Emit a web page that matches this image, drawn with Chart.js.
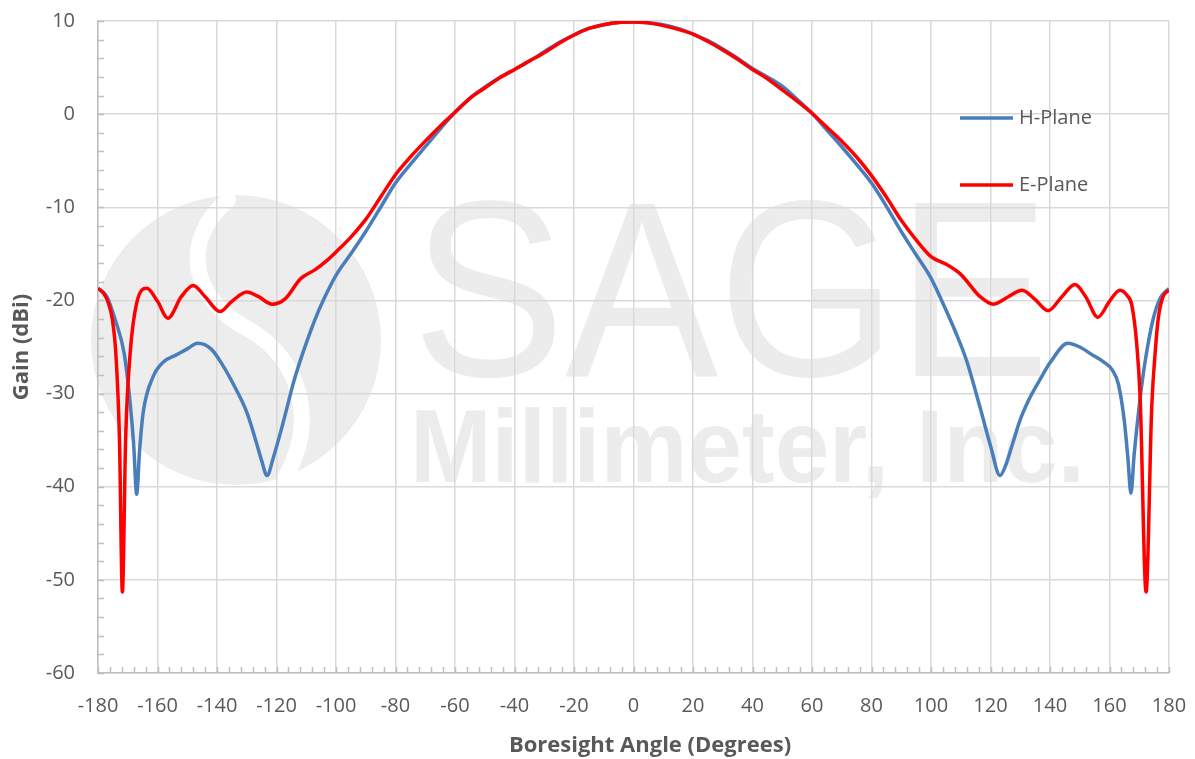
<!DOCTYPE html>
<html>
<head>
<meta charset="utf-8">
<script src="https://cdn.jsdelivr.net/npm/chart.js@4/dist/chart.umd.min.js"></script>
<style>
    html, body { margin: 0; padding: 0; background: #fff; }
    #wrap { width: 1195px; height: 759px; position: relative; }
</style>
</head>
<body>
<div id="wrap"><canvas id="patternChart"></canvas></div>
<script>
// H-Plane 方向图 (角度, 增益)
const hAngles = [-180, -177, -174, -171.2, -169.2, -168, -167, -166, -164.8, -161.5, -158, -154, -150, -146.5, -142, -138, -134, -130, -127, -125, -123.2, -121, -118, -114, -111, -107, -104, -100, -95, -90, -85, -80, -75, -70, -65, -60, -55, -50, -45, -40, -35, -30, -25, -20, -15, -10, -5, 0, 5, 10, 15, 20, 25, 30, 35, 40, 45, 50, 55, 60, 65, 70, 75, 80, 85, 90, 95, 100, 104, 108, 112, 116.5, 120, 123.2, 125, 127.5, 130, 133.3, 137, 140, 146, 150, 154, 158, 161, 163, 165, 166.2, 167.2, 168.3, 170.3, 172, 174.6, 177, 180];
const hGain = [-18.7, -19.6, -22.3, -25.7, -31, -35.5, -40.8, -36, -32, -28.2, -26.6, -25.9, -25.2, -24.6, -25.2, -27, -29.3, -32, -35, -37.2, -38.8, -36.8, -33.4, -28.5, -25.5, -22, -19.8, -17.3, -15, -12.6, -10, -7.4, -5.4, -3.5, -1.6, 0.2, 1.7, 2.9, 3.9, 4.8, 5.7, 6.7, 7.7, 8.5, 9.2, 9.6, 9.85, 9.9, 9.8, 9.6, 9.2, 8.6, 7.9, 7.0, 6.0, 4.9, 4.0, 3.0, 1.6, 0.1, -1.7, -3.5, -5.4, -7.4, -9.9, -12.6, -15.1, -17.6, -20.3, -23.2, -26.5, -31.5, -35.6, -38.8, -37.8, -35.3, -32.8, -30.4, -28.3, -26.7, -24.6, -25, -25.8, -26.6, -27.5, -29, -33, -37, -40.7, -36.5, -30.5, -26.5, -22.1, -19.8, -18.7];

// E-Plane 方向图 (角度, 增益)
const eAngles = [-180, -178, -176.5, -175.2, -174, -172.8, -171.8, -170.7, -169.2, -167, -163.6, -160, -156.5, -152, -148, -144, -139, -135, -130, -126, -121.5, -117, -112, -107, -103, -100, -95, -90, -85, -80, -75, -70, -65, -60, -55, -50, -45, -40, -35, -30, -25, -20, -15, -10, -5, 0, 5, 10, 15, 20, 25, 30, 35, 40, 45, 50, 55, 60, 65, 70, 75, 80, 85, 90, 95, 100, 105, 110, 116.5, 121, 126, 130.6, 135, 139.4, 144, 148.4, 152, 156.1, 160, 163.5, 166, 167.5, 169.1, 170.3, 172.3, 174.2, 175.5, 176.4, 178, 180];
const eGain = [-18.7, -19.3, -20.3, -22, -25.7, -34.7, -51.3, -34.7, -25.7, -20.3, -18.7, -20.1, -21.9, -19.6, -18.4, -19.6, -21.2, -20.1, -19.1, -19.6, -20.4, -19.8, -17.7, -16.7, -15.7, -14.8, -13.2, -11.3, -8.9, -6.5, -4.6, -2.9, -1.3, 0.2, 1.7, 2.8, 3.9, 4.8, 5.7, 6.6, 7.6, 8.5, 9.2, 9.6, 9.85, 9.9, 9.8, 9.5, 9.1, 8.6, 7.8, 6.9, 5.9, 4.8, 3.8, 2.6, 1.4, 0.1, -1.4, -2.9, -4.6, -6.6, -8.9, -11.4, -13.5, -15.3, -16.1, -17.2, -19.6, -20.4, -19.6, -18.9, -19.9, -21.1, -19.6, -18.3, -19.6, -21.8, -20.1, -18.9, -19.5, -20.5, -24.5, -30.4, -51.3, -31.4, -25, -21.9, -19.6, -18.9];

const seriesNames = ['H-Plane', 'E-Plane'];
const seriesColors = ['#4a7ebb', '#ff0000'];

// 坐标轴范围
const xTicks = { min: -180, max: 180, step: 20, minor: 4 };
const yTicks = { min: -60, max: 10, step: 10, minor: 2 };
const xTitle = 'Boresight Angle (Degrees)';
const yTitle = 'Gain (dBi)';

const textColor = '#595959';
const baseFont = 'Open Sans';

// 背景水印 (SAGE Millimeter, Inc.)
const watermarkPlugin = {
    id: 'watermark',
    beforeDraw(chart) {
        const ctx = chart.ctx;
        ctx.save();
        ctx.fillStyle = '#ffffff';
        ctx.fillRect(0, 0, chart.width, chart.height);

        // 圆形 logo
        ctx.fillStyle = '#ededed';
        ctx.beginPath();
        ctx.arc(236, 340, 145, 0, Math.PI * 2);
        ctx.fill();
        ctx.strokeStyle = '#ffffff';
        ctx.lineWidth = 16;
        ctx.lineCap = 'round';
        ctx.beginPath();
        ctx.moveTo(228, 200);
        ctx.bezierCurveTo(180, 240, 190, 300, 250, 330);
        ctx.bezierCurveTo(300, 360, 318, 420, 285, 478);
        ctx.stroke();

        // 文字
        ctx.fillStyle = '#ececec';
        ctx.textBaseline = 'alphabetic';
        ctx.textAlign = 'left';
        ctx.font = '250px "Liberation Sans"';
        let w = ctx.measureText('SAGE').width;
        ctx.save();
        ctx.translate(412, 376);
        ctx.scale(638 / w, 1);
        ctx.fillText('SAGE', 0, 0);
        ctx.restore();

        ctx.font = 'bold 103px "Liberation Sans"';
        w = ctx.measureText('Millimeter, Inc.').width;
        ctx.save();
        ctx.translate(410, 482);
        ctx.scale(675 / w, 1);
        ctx.fillText('Millimeter, Inc.', 0, 0);
        ctx.restore();
        ctx.restore();
    }
};

// 次刻度线 + X轴标题
const minorTickPlugin = {
    id: 'minorTicks',
    afterDraw(chart) {
        const ctx = chart.ctx;
        const xs = chart.scales.x;
        const ys = chart.scales.y;
        const area = chart.chartArea;
        ctx.save();
        ctx.strokeStyle = '#bfbfbf';
        ctx.lineWidth = 1.5;
        ctx.beginPath();
        for (let v = xTicks.min; v <= xTicks.max; v += xTicks.minor) {
            const px = Math.round(xs.getPixelForValue(v)) + 0.5;
            ctx.moveTo(px, area.bottom);
            ctx.lineTo(px, area.bottom - 6);
        }
        for (let v = yTicks.min; v <= yTicks.max; v += yTicks.minor) {
            const py = Math.round(ys.getPixelForValue(v)) + 0.5;
            ctx.moveTo(area.left, py);
            ctx.lineTo(area.left + 6, py);
        }
        ctx.stroke();

        // X轴标题（Excel 以整个图表居中）
        ctx.fillStyle = textColor;
        ctx.font = 'bold 22px "' + baseFont + '"';
        ctx.textAlign = 'center';
        ctx.textBaseline = 'middle';
        ctx.fillText(xTitle, 650, 746);
        ctx.restore();
    }
};

// 图内图例
const innerLegendPlugin = {
    id: 'innerLegend',
    afterDatasetsDraw(chart) {
        const ctx = chart.ctx;
        ctx.save();
        ctx.font = '20px "' + baseFont + '"';
        ctx.textBaseline = 'middle';
        ctx.textAlign = 'left';
        chart.data.datasets.forEach((ds, i) => {
            const y = 118 + i * 67;
            ctx.strokeStyle = ds.borderColor;
            ctx.lineWidth = 3.5;
            ctx.beginPath();
            ctx.moveTo(960, y);
            ctx.lineTo(1013, y);
            ctx.stroke();
            ctx.fillStyle = textColor;
            ctx.fillText(ds.label, 1019, y);
        });
        ctx.restore();
    }
};

function toPoints(xs, ys) {
    return xs.map((x, i) => ({ x: x, y: ys[i] }));
}

const ctx = document.getElementById('patternChart');
new Chart(ctx, {
    type: 'line',
    data: {
        datasets: [
            {
                label: seriesNames[0],
                data: toPoints(hAngles, hGain),
                borderColor: seriesColors[0],
                borderWidth: 3.5,
                pointRadius: 0,
                tension: 0.4,
                cubicInterpolationMode: 'monotone',
                order: 2
            },
            {
                label: seriesNames[1],
                data: toPoints(eAngles, eGain),
                borderColor: seriesColors[1],
                borderWidth: 3.5,
                pointRadius: 0,
                tension: 0.4,
                cubicInterpolationMode: 'monotone',
                order: 1
            }
        ]
    },
    options: {
        responsive: true,
        maintainAspectRatio: false,
        animation: false,
        layout: { padding: { top: 21, right: 26, left: 0, bottom: 0 } },
        plugins: {
            legend: { display: false },
            tooltip: { enabled: false }
        },
        scales: {
            x: {
                type: 'linear',
                min: xTicks.min,
                max: xTicks.max,
                afterFit(scale) { scale.height = 86; },
                grid: {
                    color: '#d9d9d9', lineWidth: 1.5,
                    drawTicks: true, tickLength: 21, tickColor: 'rgba(0,0,0,0)'
                },
                border: { color: '#bfbfbf', width: 1.5 },
                ticks: {
                    stepSize: xTicks.step,
                    color: textColor,
                    font: { family: baseFont, size: 20 },
                    padding: 0,
                    maxRotation: 0
                },
                title: { display: false }
            },
            y: {
                min: yTicks.min,
                max: yTicks.max,
                afterFit(scale) { scale.width = 98; },
                grid: {
                    color: '#d9d9d9', lineWidth: 1.5,
                    drawTicks: true, tickLength: 23, tickColor: 'rgba(0,0,0,0)'
                },
                border: { color: '#bfbfbf', width: 1.5 },
                ticks: {
                    stepSize: yTicks.step,
                    color: textColor,
                    font: { family: baseFont, size: 20 },
                    padding: 0
                },
                title: {
                    display: true,
                    text: yTitle,
                    color: textColor,
                    font: { family: baseFont, size: 22, weight: 'bold' },
                    padding: { top: 9, bottom: 0 }
                }
            }
        }
    },
    plugins: [watermarkPlugin, minorTickPlugin, innerLegendPlugin]
});
</script>
</body>
</html>
